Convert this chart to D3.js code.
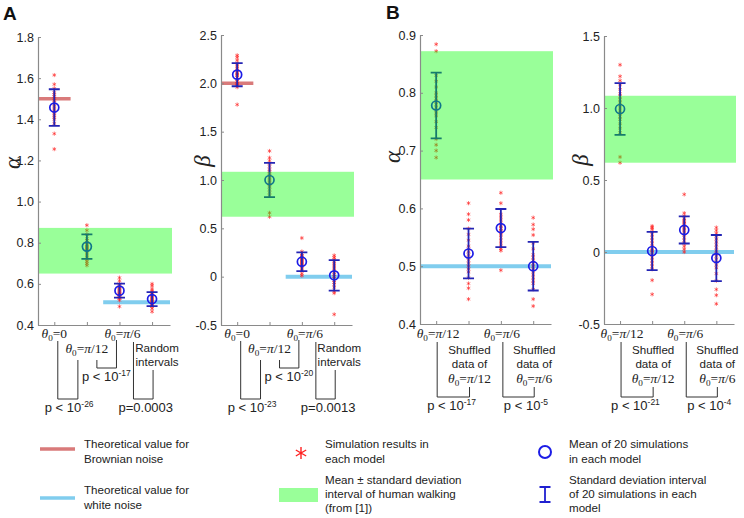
<!DOCTYPE html>
<html><head><meta charset="utf-8">
<script src="https://cdn.jsdelivr.net/npm/d3@7"></script>
<style>
body{margin:0;background:#fff}
svg{display:block}
text{font-family:Arial,"Liberation Sans",Helvetica,sans-serif;fill:#222}
.serif{font-family:"Liberation Serif","Times New Roman",serif}
</style>
</head><body><svg id="c" width="744" height="518"></svg>
<script>
// ---------------- DATA ----------------
const categoriesA = ["θ0=0", "θ0=π/12", "θ0=π/6", "Random intervals"];
const categoriesB = ["θ0=π/12", "Shuffled data of θ0=π/12", "θ0=π/6", "Shuffled data of θ0=π/6"];

const alphaTicksA = [0.4, 0.6, 0.8, 1.0, 1.2, 1.4, 1.6, 1.8];
const alphaTickLabelsA = ["0.4", "0.6", "0.8", "1.0", "1.2", "1.4", "1.6", "1.8"];
const betaTicksA = [-0.5, 0, 0.5, 1.0, 1.5, 2.0, 2.5];
const betaTickLabelsA = ["-0.5", "0", "0.5", "1.0", "1.5", "2.0", "2.5"];
const alphaTicksB = [0.4, 0.5, 0.6, 0.7, 0.8, 0.9];
const alphaTickLabelsB = ["0.4", "0.5", "0.6", "0.7", "0.8", "0.9"];
const betaTicksB = [-0.5, 0, 0.5, 1.0, 1.5];
const betaTickLabelsB = ["-0.5", "0", "0.5", "1.0", "1.5"];

// theoretical values & human walking bands
const brownianAlpha = 1.5, brownianBeta = 2.0;
const whiteAlphaA = 0.51, whiteBetaA = 0.0;
const whiteAlphaB = 0.5, whiteBetaB = 0.0;
const humanAlphaBand = [0.65, 0.872];
const humanBetaBand = [0.62, 1.085];

// means and standard deviations of 20 simulations
const aAlphaMean = [1.457, 0.781, 0.567, 0.526];
const aAlphaSd   = [0.089, 0.060, 0.034, 0.034];
const aBetaMean  = [2.09, 1.0, 0.155, 0.014];
const aBetaSd    = [0.12, 0.177, 0.097, 0.158];
const bAlphaMean = [0.778, 0.522, 0.566, 0.500];
const bAlphaSd   = [0.057, 0.043, 0.033, 0.042];
const bBetaMean  = [0.993, 0.007, 0.153, -0.042];
const bBetaSd    = [0.18, 0.133, 0.094, 0.16];

// individual simulation results
const aAlphaSims = [
  [1.615,1.57,1.55,1.53,1.52,1.51,1.50,1.49,1.48,1.47,1.46,1.45,1.44,1.43,1.42,1.41,1.40,1.38,1.33,1.255],
  [0.885,0.86,0.84,0.82,0.81,0.80,0.79,0.785,0.78,0.775,0.77,0.765,0.76,0.75,0.74,0.73,0.72,0.71,0.70,0.69],
  [0.63,0.615,0.60,0.59,0.585,0.58,0.575,0.57,0.565,0.56,0.555,0.55,0.55,0.545,0.54,0.535,0.53,0.53,0.52,0.49],
  [0.60,0.59,0.575,0.565,0.56,0.55,0.545,0.54,0.535,0.53,0.525,0.52,0.515,0.51,0.505,0.50,0.495,0.49,0.48,0.465]
];
const aBetaSims = [
  [2.29,2.27,2.24,2.21,2.19,2.17,2.15,2.13,2.11,2.10,2.09,2.08,2.06,2.04,2.02,2.00,1.99,1.98,1.96,1.78],
  [1.30,1.23,1.20,1.17,1.14,1.11,1.09,1.07,1.05,1.03,1.01,0.99,0.97,0.95,0.93,0.90,0.87,0.84,0.66,0.62],
  [0.40,0.26,0.24,0.22,0.21,0.20,0.19,0.18,0.17,0.16,0.15,0.14,0.13,0.12,0.11,0.10,0.08,0.06,0.03,0.01],
  [0.22,0.20,0.18,0.16,0.14,0.12,0.10,0.08,0.06,0.04,0.02,0.00,-0.02,-0.04,-0.06,-0.08,-0.11,-0.15,-0.17,-0.39]
];
const bAlphaSims = [
  [0.884,0.872,0.83,0.82,0.81,0.80,0.795,0.79,0.785,0.78,0.775,0.77,0.765,0.76,0.75,0.74,0.72,0.71,0.70,0.688],
  [0.609,0.59,0.58,0.565,0.555,0.545,0.535,0.53,0.525,0.52,0.515,0.51,0.505,0.50,0.495,0.49,0.48,0.47,0.462,0.443],
  [0.627,0.609,0.59,0.585,0.58,0.575,0.57,0.568,0.565,0.562,0.56,0.557,0.555,0.55,0.545,0.54,0.535,0.53,0.527,0.493],
  [0.584,0.572,0.564,0.554,0.54,0.53,0.52,0.515,0.51,0.505,0.50,0.495,0.49,0.485,0.48,0.475,0.47,0.46,0.443,0.431]
];
const bBetaSims = [
  [1.30,1.22,1.19,1.16,1.13,1.10,1.08,1.06,1.04,1.02,1.00,0.98,0.96,0.94,0.92,0.89,0.86,0.83,0.66,0.62],
  [0.18,0.17,0.16,0.14,0.12,0.10,0.08,0.06,0.04,0.02,0.01,0.0,-0.02,-0.04,-0.06,-0.08,-0.10,-0.12,-0.196,-0.294],
  [0.40,0.27,0.25,0.23,0.22,0.21,0.20,0.19,0.18,0.17,0.16,0.15,0.14,0.12,0.10,0.08,0.06,0.04,0.02,0.00],
  [0.17,0.15,0.13,0.11,0.09,0.07,0.05,0.03,0.01,-0.01,-0.03,-0.05,-0.07,-0.09,-0.11,-0.15,-0.20,-0.26,-0.30,-0.36]
];

// p-value annotations
const pA_alpha = [["p < 10", "-26"], ["p < 10", "-17"], ["p=0.0003", ""]];
const pA_beta  = [["p < 10", "-23"], ["p < 10", "-20"], ["p=0.0013", ""]];
const pB_alpha = [["p < 10", "-17"], ["p < 10", "-5"]];
const pB_beta  = [["p < 10", "-21"], ["p < 10", "-4"]];

// ---------------- STYLE ----------------
const C = {
  brown: "#d97a7a", white: "#80cdee", band: "#00ff00", bandOpacity: 0.4,
  star: "rgba(255,30,30,0.6)", bar: "#2424b4", circle: "#1c1ce6",
  axis: "#8a8a8a", bracket: "#333"
};
const svg = d3.select("#c");

function theta(sel, x, y, denom, size) {
  const t = sel.append("text").attr("class", "serif").attr("x", x).attr("y", y)
    .attr("text-anchor", "middle").style("font-size", size + "px").style("fill", "#222");
  t.append("tspan").style("font-style", "italic").text("θ");
  t.append("tspan").attr("dy", 3).style("font-size", (size * 0.68) + "px").text("0");
  if (denom === "0") {
    t.append("tspan").attr("dy", -3).text("=0");
  } else {
    t.append("tspan").attr("dy", -3).text("=");
    t.append("tspan").style("font-style", "italic").text("π");
    t.append("tspan").text("/" + denom);
  }
  return t;
}
function ptext(sel, x, y, pair) {
  const t = sel.append("text").attr("x", x).attr("y", y).style("font-size", "13px");
  t.append("tspan").text(pair[0]);
  if (pair[1]) t.append("tspan").attr("dy", -5).style("font-size", "8.5px").text(pair[1]);
}

function drawPanel(cfg) {
  const g = svg.append("g");
  const x = d3.scaleLinear().domain([0.5, 4.55]).range([cfg.x0, cfg.x1]);
  const y = d3.scaleLinear().domain(cfg.domain).range([cfg.yBot, cfg.yTop]);

  if (cfg.brown != null) {
    g.append("line").attr("x1", x(0.5)).attr("x2", x(1.5)).attr("y1", y(cfg.brown)).attr("y2", y(cfg.brown))
      .attr("stroke", C.brown).attr("stroke-width", 3.5);
  }
  g.append("line").attr("x1", x(cfg.whiteFrom)).attr("x2", x(4.55)).attr("y1", y(cfg.white)).attr("y2", y(cfg.white))
    .attr("stroke", C.white).attr("stroke-width", 4);

  const star = d3.symbol().type(d3.symbolAsterisk).size(12);
  cfg.sims.forEach((vals, i) => {
    g.selectAll(null).data(vals).enter().append("path")
      .attr("d", star).attr("transform", d => `translate(${x(i + 1)},${y(d)})`)
      .attr("fill", "none").attr("stroke", C.star).attr("stroke-width", 1);
  });

  cfg.means.forEach((m, i) => {
    const cx = x(i + 1), lo = y(m - cfg.sds[i]), hi = y(m + cfg.sds[i]);
    g.append("path").attr("d", `M${cx},${lo}V${hi}M${cx - 5.5},${lo}H${cx + 5.5}M${cx - 5.5},${hi}H${cx + 5.5}`)
      .attr("stroke", C.bar).attr("stroke-width", 1.8).attr("fill", "none");
  });
  g.selectAll(null).data(cfg.means).enter().append("circle")
    .attr("cx", (d, i) => x(i + 1)).attr("cy", d => y(d)).attr("r", 4.5)
    .attr("fill", "none").attr("stroke", C.circle).attr("stroke-width", 1.7);

  g.append("rect").attr("x", cfg.x0).attr("width", x(4.55) - cfg.x0 + 2)
    .attr("y", y(cfg.band[1])).attr("height", y(cfg.band[0]) - y(cfg.band[1]))
    .attr("fill", C.band).attr("fill-opacity", C.bandOpacity);

  const ya = g.append("g").attr("transform", `translate(${cfg.x0},0)`)
    .call(d3.axisLeft(y).tickValues(cfg.ticks).tickFormat((d, i) => cfg.tickLabels[i]).tickSize(-3).tickSizeOuter(0).tickPadding(4));
  const xa = g.append("g").attr("transform", `translate(0,${cfg.yBot})`)
    .call(d3.axisBottom(x).tickValues([1, 2, 3, 4]).tickFormat("").tickSize(-3).tickSizeOuter(0));
  [ya, xa].forEach(a => {
    a.select(".domain").attr("stroke", C.axis).attr("stroke-width", 1.2);
    a.selectAll(".tick line").attr("stroke", C.axis);
    a.selectAll(".tick text").style("font-size", "12.5px").style("fill", "#222").style("font-family", "Arial, sans-serif");
  });

  g.append("text").attr("class", "serif").attr("transform", `translate(${cfg.labX},${cfg.labY}) rotate(-90)`)
    .attr("text-anchor", "middle").attr("dominant-baseline", "central")
    .style("font-size", "23px").style("font-style", "italic").style("fill", "#222").text(cfg.label);
  return { g, x, y };
}

function bracket(g, lx, lTop, rx, rTop, bot) {
  g.append("path").attr("d", `M${lx},${lTop}V${bot}H${rx}V${rTop}`)
    .attr("fill", "none").attr("stroke", C.bracket).attr("stroke-width", 1);
}

function annotateA(p, pvals) {
  const { g, x } = p;
  theta(g, x(1), 338, "0", 13.5);
  theta(g, x(2), 353, "12", 13.5);
  theta(g, x(3) + 3, 338, "6", 13.5);
  g.append("text").attr("x", x(4) + 5).attr("y", 352).attr("text-anchor", "middle").style("font-size", "11.6px").text("Random");
  g.append("text").attr("x", x(4) + 5).attr("y", 366).attr("text-anchor", "middle").style("font-size", "11.6px").text("intervals");
  bracket(g, x(1) + 3.5, 341, x(2) - 9, 360, 399);
  bracket(g, x(2) + 10, 360, x(3) - 3, 340, 368);
  bracket(g, x(3) + 14, 342, x(4) + 1, 370, 399);
  ptext(g, x(1) - 9.5, 412, pvals[0]);
  ptext(g, x(2) - 5, 381, pvals[1]);
  ptext(g, x(3) - 1, 412, pvals[2]);
}
function annotateB(p, pvals) {
  const { g, x } = p;
  theta(g, x(1) + 2, 338, "12", 13.5);
  theta(g, x(3) + 1, 338, "6", 13.5);
  [2, 4].forEach((c, k) => {
    g.append("text").attr("x", x(c) + 1).attr("y", 354).attr("text-anchor", "middle").style("font-size", "11.6px").text("Shuffled");
    g.append("text").attr("x", x(c) + 1).attr("y", 368).attr("text-anchor", "middle").style("font-size", "11.6px").text("data of");
    theta(g, x(c) + 1, 383, k === 0 ? "12" : "6", 13.5);
  });
  bracket(g, x(1) + 1, 342, x(2) + 1, 387, 397);
  bracket(g, x(3) + 2, 342, x(4) + 1, 387, 397);
  ptext(g, x(1) - 9, 410, pvals[0]);
  ptext(g, x(3) + 3, 410, pvals[1]);
}

const pAa = drawPanel({ x0: 38, x1: 170, yTop: 37, yBot: 325, domain: [0.4, 1.8], ticks: alphaTicksA, tickLabels: alphaTickLabelsA,
  means: aAlphaMean, sds: aAlphaSd, sims: aAlphaSims, band: humanAlphaBand, brown: brownianAlpha, white: whiteAlphaA, whiteFrom: 2.5,
  label: "α", labX: 12, labY: 163 });
const pAb = drawPanel({ x0: 221, x1: 352, yTop: 35, yBot: 325, domain: [-0.5, 2.5], ticks: betaTicksA, tickLabels: betaTickLabelsA,
  means: aBetaMean, sds: aBetaSd, sims: aBetaSims, band: humanBetaBand, brown: brownianBeta, white: whiteBetaA, whiteFrom: 2.5,
  label: "β", labX: 202, labY: 161 });
const pBa = drawPanel({ x0: 420, x1: 551, yTop: 35, yBot: 324, domain: [0.4, 0.9], ticks: alphaTicksB, tickLabels: alphaTickLabelsB,
  means: bAlphaMean, sds: bAlphaSd, sims: bAlphaSims, band: humanAlphaBand, brown: null, white: whiteAlphaB, whiteFrom: 0.5,
  label: "α", labX: 392, labY: 157 });
const pBb = drawPanel({ x0: 604, x1: 734, yTop: 36, yBot: 324, domain: [-0.5, 1.5], ticks: betaTicksB, tickLabels: betaTickLabelsB,
  means: bBetaMean, sds: bBetaSd, sims: bBetaSims, band: humanBetaBand, brown: null, white: whiteBetaB, whiteFrom: 0.5,
  label: "β", labX: 580, labY: 160 });

annotateA(pAa, pA_alpha);
annotateA(pAb, pA_beta);
annotateB(pBa, pB_alpha);
annotateB(pBb, pB_beta);

svg.append("text").attr("x", 3).attr("y", 20).style("font-size", "19px").style("font-weight", "bold").style("fill", "#111").text("A");
svg.append("text").attr("x", 386).attr("y", 19).style("font-size", "19px").style("font-weight", "bold").style("fill", "#111").text("B");

// ---------------- LEGEND ----------------
const L = svg.append("g").style("font-size", "11.6px");
function lines(x, ys, arr) { arr.forEach((s, i) => L.append("text").attr("x", x).attr("y", ys[i]).text(s)); }
L.append("line").attr("x1", 40).attr("x2", 75).attr("y1", 449).attr("y2", 449).attr("stroke", C.brown).attr("stroke-width", 3.5);
lines(84, [448, 463], ["Theoretical value for", "Brownian noise"]);
L.append("line").attr("x1", 40).attr("x2", 75).attr("y1", 498).attr("y2", 498).attr("stroke", C.white).attr("stroke-width", 3.5);
lines(84, [494, 509], ["Theoretical value for", "white noise"]);
L.append("path").attr("d", d3.symbol().type(d3.symbolAsterisk).size(100)).attr("transform", "translate(301,453)")
  .attr("fill", "none").attr("stroke", "#ff2020").attr("stroke-width", 1.4);
lines(325, [448, 463], ["Simulation results in", "each model"]);
L.append("rect").attr("x", 279).attr("y", 488).attr("width", 39).attr("height", 14).attr("fill", C.band).attr("fill-opacity", C.bandOpacity);
lines(325, [484, 498, 512], ["Mean ± standard deviation", "interval of human walking", "(from [1])"]);
L.append("circle").attr("cx", 545).attr("cy", 452).attr("r", 6).attr("fill", "none").attr("stroke", C.circle).attr("stroke-width", 2);
lines(569, [448, 463], ["Mean of 20 simulations", "in each model"]);
L.append("path").attr("d", "M545,487V502M539.5,487H550.5M539.5,502H550.5").attr("stroke", "#2020d0").attr("stroke-width", 1.8).attr("fill", "none");
lines(569, [484, 498, 512], ["Standard deviation interval", "of 20 simulations in each", "model"]);
</script>
</body></html>
